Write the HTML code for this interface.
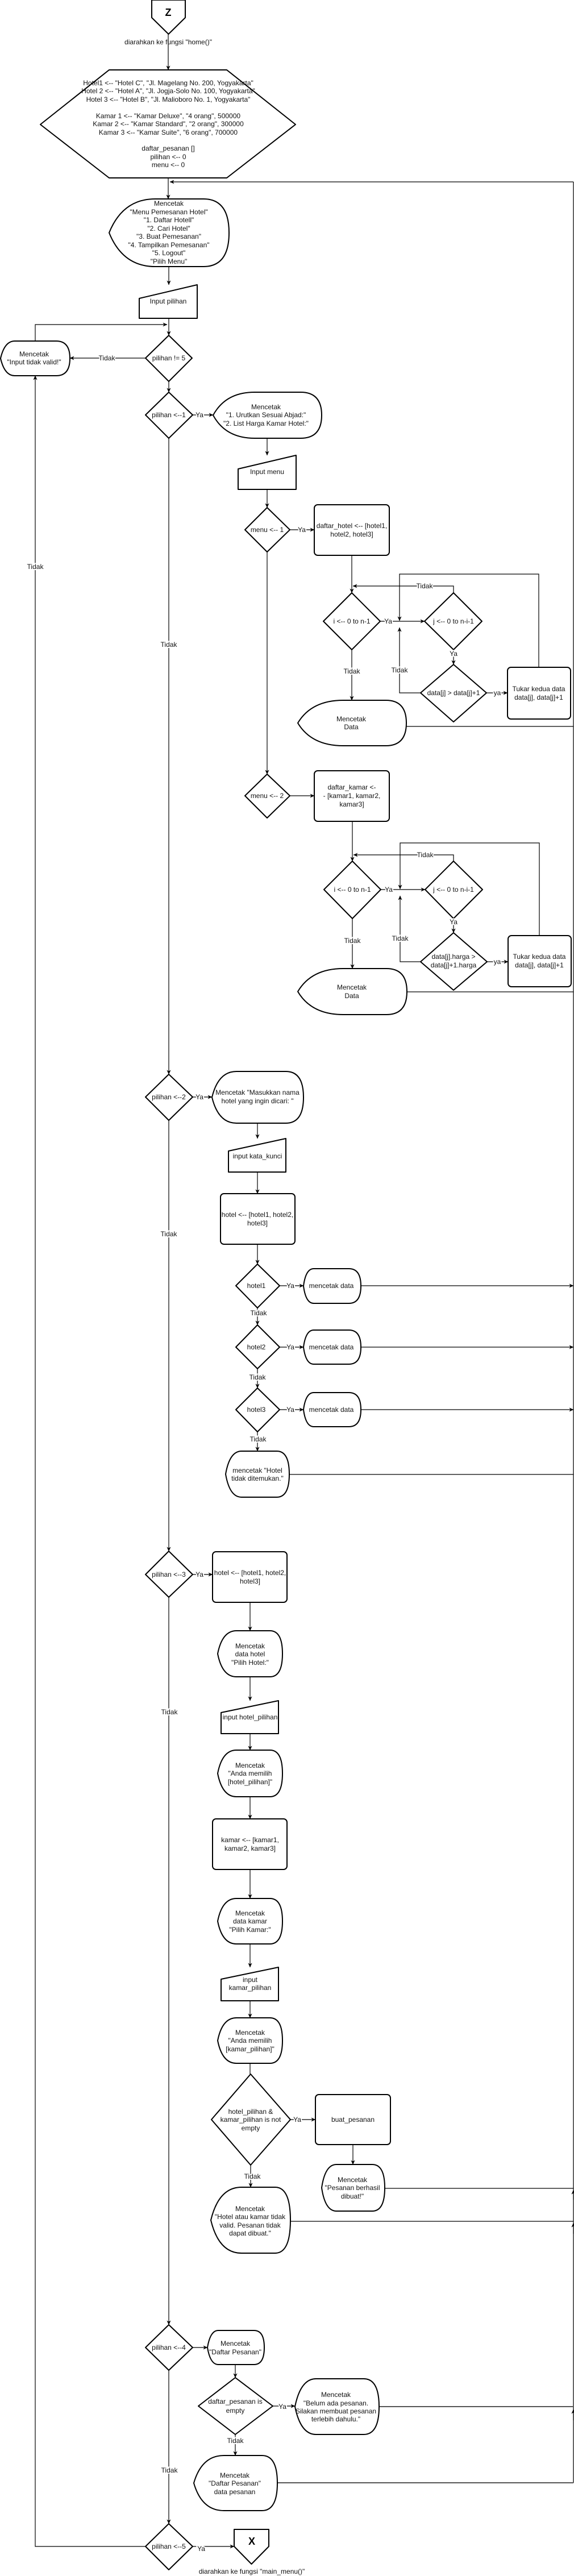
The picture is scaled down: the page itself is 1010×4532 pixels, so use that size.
<!DOCTYPE html>
<html><head><meta charset="utf-8"><style>
html,body{margin:0;padding:0;background:#fff;}
svg{display:block;}
.s{fill:#fff;stroke:#000;stroke-width:2;stroke-linejoin:round;}
.c{fill:none;stroke:#000;stroke-width:1.2;}
.t{font-family:"Liberation Sans",Arial,sans-serif;font-size:12px;fill:#111;text-anchor:middle;dominant-baseline:central;}
.l{font-family:"Liberation Sans",Arial,sans-serif;font-size:12px;fill:#111;text-anchor:middle;dominant-baseline:central;stroke:#fff;stroke-width:4px;paint-order:stroke;}
.b{font-family:"Liberation Sans",Arial,sans-serif;font-size:18px;font-weight:bold;fill:#000;text-anchor:middle;dominant-baseline:central;}
</style></head><body>
<svg width="1010" height="4532" viewBox="0 0 1010 4532" xmlns="http://www.w3.org/2000/svg">
<defs><marker id="a" viewBox="0 0 10 10" refX="9.5" refY="5" markerWidth="8" markerHeight="8" markerUnits="userSpaceOnUse" orient="auto"><path d="M0,0.5 L10,5 L0,9.5 L3,5 Z" fill="#000"/></marker></defs>

<!-- connectors -->
<g class="c">
<path d="M296,60 V123" marker-end="url(#a)"/>
<path d="M296,313 V350" marker-end="url(#a)"/>
<path d="M1009,320 H299" marker-end="url(#a)"/>
<path d="M1009,4368 V320"/>
<path d="M297,469 V501" marker-end="url(#a)"/>
<path d="M297,560 V590" marker-end="url(#a)"/>
<path d="M62,600 V571 H294" marker-end="url(#a)"/>
<path d="M256,630 H123" marker-end="url(#a)"/>
<path d="M256,4480 H62 V661" marker-end="url(#a)"/>
<path d="M297,671 V690" marker-end="url(#a)"/>
<path d="M339,730 H375" marker-end="url(#a)"/>
<path d="M470,771 V801" marker-end="url(#a)"/>
<path d="M470,861 V893" marker-end="url(#a)"/>
<path d="M510,932 H553" marker-end="url(#a)"/>
<path d="M619,977 V1043" marker-end="url(#a)"/>
<path d="M669,1093 H747" marker-end="url(#a)"/>
<path d="M798,1043 V1031 H621" marker-end="url(#a)"/>
<path d="M948,1174 V1010 H703 V1092" marker-end="url(#a)"/>
<path d="M798,1143 V1169" marker-end="url(#a)"/>
<path d="M740,1219 H703 V1104" marker-end="url(#a)"/>
<path d="M856,1219 H893" marker-end="url(#a)"/>
<path d="M619,1143 V1232" marker-end="url(#a)"/>
<path d="M715,1278 H1009"/>
<path d="M470,971 V1362" marker-end="url(#a)"/>
<path d="M510,1400 H553" marker-end="url(#a)"/>
<path d="M620,1445 V1515" marker-end="url(#a)"/>
<path d="M949,1646 V1483 H704 V1564" marker-end="url(#a)"/>
<path d="M798,1515 V1504 H622" marker-end="url(#a)"/>
<path d="M670,1565 H748" marker-end="url(#a)"/>
<path d="M798,1616 V1641" marker-end="url(#a)"/>
<path d="M740,1692 H704 V1576" marker-end="url(#a)"/>
<path d="M857,1692 H894" marker-end="url(#a)"/>
<path d="M620,1616 V1704" marker-end="url(#a)"/>
<path d="M716,1745 H1009"/>
<path d="M297,771 V1890" marker-end="url(#a)"/>
<path d="M339,1930 H373" marker-end="url(#a)"/>
<path d="M453,1976 V2003" marker-end="url(#a)"/>
<path d="M453,2062 V2100" marker-end="url(#a)"/>
<path d="M453,2189 V2224" marker-end="url(#a)"/>
<path d="M492,2262 H534" marker-end="url(#a)"/>
<path d="M635,2262 H1009" marker-end="url(#a)"/>
<path d="M453,2301 V2331" marker-end="url(#a)"/>
<path d="M492,2370 H534" marker-end="url(#a)"/>
<path d="M635,2370 H1009" marker-end="url(#a)"/>
<path d="M453,2408 V2442" marker-end="url(#a)"/>
<path d="M492,2480 H534" marker-end="url(#a)"/>
<path d="M635,2480 H1009" marker-end="url(#a)"/>
<path d="M453,2519 V2553" marker-end="url(#a)"/>
<path d="M509,2594 H1009"/>
<path d="M297,1971 V2729" marker-end="url(#a)"/>
<path d="M339,2770 H374" marker-end="url(#a)"/>
<path d="M440,2819 V2869" marker-end="url(#a)"/>
<path d="M440,2950 V2992" marker-end="url(#a)"/>
<path d="M440,3050 V3079" marker-end="url(#a)"/>
<path d="M440,3161 V3200" marker-end="url(#a)"/>
<path d="M440,3289 V3340" marker-end="url(#a)"/>
<path d="M440,3420 V3461" marker-end="url(#a)"/>
<path d="M440,3520 V3550" marker-end="url(#a)"/>
<path d="M440,3630 V3649"/>
<path d="M511,3729 H555" marker-end="url(#a)"/>
<path d="M621,3773 V3808" marker-end="url(#a)"/>
<path d="M677,3850 H1009"/>
<path d="M441,3809 V3848" marker-end="url(#a)"/>
<path d="M511,3908 H1009"/>
<path d="M1009,3870 V3853" marker-end="url(#a)"/>
<path d="M1009,3930 V3911" marker-end="url(#a)"/>
<path d="M297,2810 V4090" marker-end="url(#a)"/>
<path d="M339,4130 H365" marker-end="url(#a)"/>
<path d="M414,4160 V4183" marker-end="url(#a)"/>
<path d="M480,4233 H519" marker-end="url(#a)"/>
<path d="M667,4234 H1009" style="stroke:#555;stroke-width:2"/>
<path d="M1009,4258 V4239" marker-end="url(#a)"/>
<path d="M414,4283 V4320" marker-end="url(#a)"/>
<path d="M488,4368 H1009" style="stroke:#555;stroke-width:2"/>
<path d="M297,4170 V4440" marker-end="url(#a)"/>
<path d="M339,4480 H412" marker-end="url(#a)"/>
</g>

<!-- shapes -->
<g class="s">
<path d="M267,0 H326 V31 L296.5,60 L267,31 Z"/>
<path d="M192,123 H399 L520,219 L399,313 H192 L71,219 Z"/>
<path d="M192,409.5 Q216,350 273,350 L358,350 Q403,350 403,409.5 Q403,469 358,469 L273,469 Q216,469 192,409.5 Z"/>
<path d="M245,525 L347,501 V560 H245 Z"/>
<path d="M297,590 L338,630 L297,671 L256,630 Z"/>
<path d="M1,630.5 Q8,600 26,600 L99,600 Q123,600 123,630.5 Q123,661 99,661 L26,661 Q8,661 1,630.5 Z"/>
<path d="M297,690 L339,730 L297,771 L256,730 Z"/>
<path d="M375,730.5 Q397,690 448,690 L529,690 Q566,690 566,730.5 Q566,771 529,771 L448,771 Q397,771 375,730.5 Z"/>
<path d="M419,825 L521,801 V861 H419 Z"/>
<path d="M470,893 L510,932 L470,971 L431,932 Z"/>
<rect x="553" y="888" width="132" height="89" rx="6"/>
<path d="M619,1043 L669,1093 L619,1143 L569,1093 Z"/>
<path d="M798,1043 L848,1093 L798,1143 L747,1093 Z"/>
<path d="M798,1169 L856,1219 L798,1270 L740,1219 Z"/>
<rect x="893" y="1174" width="111" height="91" rx="6"/>
<path d="M524,1272 Q548,1232 604,1232 L679,1232 Q715,1232 715,1272 Q715,1312 679,1312 L604,1312 Q548,1312 524,1272 Z"/>
<path d="M470,1362 L510,1400 L470,1439 L431,1400 Z"/>
<rect x="553" y="1356" width="132" height="89" rx="6"/>
<path d="M620,1515 L670,1565 L620,1616 L570,1565 Z"/>
<path d="M798,1515 L849,1565 L798,1616 L748,1565 Z"/>
<path d="M798,1641 L857,1692 L798,1742 L740,1692 Z"/>
<rect x="894" y="1646" width="111" height="90" rx="6"/>
<path d="M524,1744.5 Q548,1704 604,1704 L680,1704 Q716,1704 716,1744.5 Q716,1785 680,1785 L604,1785 Q548,1785 524,1744.5 Z"/>
<path d="M297,1890 L339,1930 L297,1971 L256,1930 Z"/>
<path d="M373,1930.5 Q384,1885 416,1885 L503,1885 Q534,1885 534,1930.5 Q534,1976 503,1976 L416,1976 Q384,1976 373,1930.5 Z"/>
<path d="M402,2025 L503,2003 V2062 H402 Z"/>
<rect x="388" y="2100" width="131" height="89" rx="6"/>
<path d="M453,2224 L492,2262 L453,2301 L415,2262 Z"/>
<path d="M534,2262.5 Q538,2232 552,2232 L614,2232 Q635,2232 635,2262.5 Q635,2293 614,2293 L552,2293 Q538,2293 534,2262.5 Z"/>
<path d="M453,2331 L492,2370 L453,2408 L415,2370 Z"/>
<path d="M534,2370 Q538,2340 552,2340 L614,2340 Q635,2340 635,2370 Q635,2400 614,2400 L552,2400 Q538,2400 534,2370 Z"/>
<path d="M453,2442 L492,2480 L453,2519 L415,2480 Z"/>
<path d="M534,2480 Q538,2450 552,2450 L614,2450 Q635,2450 635,2480 Q635,2510 614,2510 L552,2510 Q538,2510 534,2480 Z"/>
<path d="M397,2593.5 Q404,2553 425,2553 L487,2553 Q509,2553 509,2593.5 Q509,2634 487,2634 L425,2634 Q404,2634 397,2593.5 Z"/>
<path d="M297,2729 L339,2770 L297,2810 L256,2770 Z"/>
<rect x="374" y="2730" width="131" height="89" rx="6"/>
<path d="M383,2909.5 Q391,2869 416,2869 L475,2869 Q497,2869 497,2909.5 Q497,2950 475,2950 L416,2950 Q391,2950 383,2909.5 Z"/>
<path d="M389,3013 L490,2992 V3050 H389 Z"/>
<path d="M383,3120 Q391,3079 416,3079 L475,3079 Q497,3079 497,3120 Q497,3161 475,3161 L416,3161 Q391,3161 383,3120 Z"/>
<rect x="374" y="3200" width="131" height="89" rx="6"/>
<path d="M383,3380 Q391,3340 416,3340 L475,3340 Q497,3340 497,3380 Q497,3420 475,3420 L416,3420 Q391,3420 383,3380 Z"/>
<path d="M389,3482 L490,3461 V3520 H389 Z"/>
<path d="M383,3590 Q391,3550 416,3550 L475,3550 Q497,3550 497,3590 Q497,3630 475,3630 L416,3630 Q391,3630 383,3590 Z"/>
<path d="M441,3649 L511,3729 L441,3809 L372,3729 Z"/>
<rect x="555" y="3685" width="132" height="88" rx="6"/>
<path d="M566,3849 Q572,3808 592,3808 L655,3808 Q677,3808 677,3849 Q677,3890 655,3890 L592,3890 Q572,3890 566,3849 Z"/>
<path d="M371,3906 Q385,3848 425,3848 L484,3848 Q511,3848 511,3906 Q511,3964 484,3964 L425,3964 Q385,3964 371,3906 Z"/>
<path d="M297,4090 L339,4130 L297,4170 L256,4130 Z"/>
<path d="M365,4130 Q370,4100 384,4100 L447,4100 Q465,4100 465,4130 Q465,4160 447,4160 L384,4160 Q370,4160 365,4130 Z"/>
<path d="M414,4183 L480,4233 L414,4283 L349,4233 Z"/>
<path d="M519,4234 Q529,4185 556,4185 L640,4185 Q667,4185 667,4234 Q667,4283 640,4283 L556,4283 Q529,4283 519,4234 Z"/>
<path d="M341,4368.5 Q355,4320 394,4320 L461,4320 Q488,4320 488,4368.5 Q488,4417 461,4417 L394,4417 Q355,4417 341,4368.5 Z"/>
<path d="M297,4440 L339,4480 L297,4521 L256,4480 Z"/>
<path d="M412,4450 H473 V4480 L442.5,4511 L412,4480 Z"/>
</g>

<!-- text -->
<text class="b" x="296" y="22">Z</text>
<text class="t" x="296" y="74">diarahkan ke fungsi "home()"</text>
<text class="t" x="296" y="146">Hotel1 &lt;-- "Hotel C", "Jl. Magelang No. 200, Yogyakarta"</text>
<text class="t" x="296" y="160">Hotel 2 &lt;-- "Hotel A", "Jl. Jogja-Solo No. 100, Yogyakarta"</text>
<text class="t" x="296" y="175">Hotel 3 &lt;-- "Hotel B", "Jl. Malioboro No. 1, Yogyakarta"</text>
<text class="t" x="296" y="204">Kamar 1 &lt;-- "Kamar Deluxe", "4 orang", 500000</text>
<text class="t" x="296" y="218">Kamar 2 &lt;-- "Kamar Standard", "2 orang", 300000</text>
<text class="t" x="296" y="233">Kamar 3 &lt;-- "Kamar Suite", "6 orang", 700000</text>
<text class="t" x="296" y="261">daftar_pesanan []</text>
<text class="t" x="296" y="276">pilihan &lt;-- 0</text>
<text class="t" x="296" y="290">menu &lt;-- 0</text>
<text class="t" x="297" y="358">Mencetak</text>
<text class="t" x="297" y="373">"Menu Pemesanan Hotel"</text>
<text class="t" x="297" y="387">"1. Daftar Hotell"</text>
<text class="t" x="297" y="402">"2. Cari Hotel"</text>
<text class="t" x="297" y="416">"3. Buat Pemesanan"</text>
<text class="t" x="297" y="431">"4. Tampilkan Pemesanan"</text>
<text class="t" x="297" y="445">"5. Logout"</text>
<text class="t" x="297" y="460">"Pilih Menu"</text>
<text class="t" x="296" y="530">Input pilihan</text>
<text class="t" x="297" y="630">pilihan != 5</text>
<text class="l" x="188" y="630">Tidak</text>
<text class="t" x="60" y="623">Mencetak</text>
<text class="t" x="60" y="637">"Input tidak valid!"</text>
<text class="l" x="62" y="997">Tidak</text>
<text class="t" x="297" y="730">pilihan &lt;--1</text>
<text class="l" x="351" y="730">Ya</text>
<text class="t" x="468" y="716">Mencetak</text>
<text class="t" x="468" y="730">"1. Urutkan Sesuai Abjad:"</text>
<text class="t" x="468" y="745">"2. List Harga Kamar Hotel:"</text>
<text class="t" x="470" y="830">Input menu</text>
<text class="t" x="470" y="932">menu &lt;-- 1</text>
<text class="l" x="531" y="932">Ya</text>
<text class="t" x="619" y="925">daftar_hotel &lt;-- [hotel1,</text>
<text class="t" x="619" y="940">hotel2, hotel3]</text>
<text class="t" x="619" y="1093">i &lt;-- 0 to n-1</text>
<text class="l" x="683" y="1093">Ya</text>
<text class="t" x="798" y="1093">j &lt;-- 0 to n-i-1</text>
<text class="l" x="747" y="1031">Tidak</text>
<text class="l" x="798" y="1150">Ya</text>
<text class="t" x="798" y="1219">data[j] &gt; data[j]+1</text>
<text class="l" x="703" y="1179">Tidak</text>
<text class="l" x="875" y="1219">ya</text>
<text class="t" x="948" y="1212">Tukar kedua data</text>
<text class="t" x="948" y="1227">data[j], data[j]+1</text>
<text class="l" x="619" y="1181">Tidak</text>
<text class="t" x="618" y="1265">Mencetak</text>
<text class="t" x="618" y="1279">Data</text>
<text class="l" x="297" y="1134">Tidak</text>
<text class="t" x="470" y="1400">menu &lt;-- 2</text>
<text class="t" x="619" y="1385">daftar_kamar &lt;-</text>
<text class="t" x="619" y="1400">- [kamar1, kamar2,</text>
<text class="t" x="619" y="1415">kamar3]</text>
<text class="t" x="620" y="1565">i &lt;-- 0 to n-1</text>
<text class="l" x="684" y="1565">Ya</text>
<text class="t" x="798" y="1565">j &lt;-- 0 to n-i-1</text>
<text class="l" x="748" y="1504">Tidak</text>
<text class="l" x="798" y="1622">Ya</text>
<text class="t" x="798" y="1683">data[j].harga &gt;</text>
<text class="t" x="798" y="1698">data[j]+1.harga</text>
<text class="l" x="704" y="1651">Tidak</text>
<text class="l" x="875" y="1692">ya</text>
<text class="t" x="949" y="1683">Tukar kedua data</text>
<text class="t" x="949" y="1698">data[j], data[j]+1</text>
<text class="l" x="620" y="1655">Tidak</text>
<text class="t" x="619" y="1737">Mencetak</text>
<text class="t" x="619" y="1752">Data</text>
<text class="t" x="297" y="1930">pilihan &lt;--2</text>
<text class="l" x="351" y="1930">Ya</text>
<text class="t" x="453" y="1922">Mencetak "Masukkan nama</text>
<text class="t" x="453" y="1937">hotel yang ingin dicari: "</text>
<text class="t" x="453" y="2034">input kata_kunci</text>
<text class="l" x="297" y="2171">Tidak</text>
<text class="t" x="453" y="2137">hotel &lt;-- [hotel1, hotel2,</text>
<text class="t" x="453" y="2152">hotel3]</text>
<text class="t" x="451" y="2262">hotel1</text>
<text class="l" x="511" y="2262">Ya</text>
<text class="t" x="583" y="2262">mencetak data</text>
<text class="l" x="455" y="2310">Tidak</text>
<text class="t" x="451" y="2370">hotel2</text>
<text class="l" x="511" y="2370">Ya</text>
<text class="t" x="583" y="2370">mencetak data</text>
<text class="l" x="453" y="2423">Tidak</text>
<text class="t" x="451" y="2480">hotel3</text>
<text class="l" x="511" y="2480">Ya</text>
<text class="t" x="583" y="2480">mencetak data</text>
<text class="l" x="454" y="2532">Tidak</text>
<text class="t" x="453" y="2587">mencetak "Hotel</text>
<text class="t" x="453" y="2601">tidak ditemukan."</text>
<text class="t" x="297" y="2770">pilihan &lt;--3</text>
<text class="l" x="351" y="2770">Ya</text>
<text class="t" x="440" y="2767">hotel &lt;-- [hotel1, hotel2,</text>
<text class="t" x="440" y="2782">hotel3]</text>
<text class="t" x="440" y="2896">Mencetak</text>
<text class="t" x="440" y="2910">data hotel</text>
<text class="t" x="440" y="2925">"Pilih Hotel:"</text>
<text class="l" x="298" y="3012">Tidak</text>
<text class="t" x="440" y="3021">input hotel_pilihan</text>
<text class="t" x="440" y="3106">Mencetak</text>
<text class="t" x="440" y="3120">"Anda memilih</text>
<text class="t" x="440" y="3135">[hotel_pilihan]"</text>
<text class="t" x="440" y="3237">kamar &lt;-- [kamar1,</text>
<text class="t" x="440" y="3252">kamar2, kamar3]</text>
<text class="t" x="440" y="3366">Mencetak</text>
<text class="t" x="440" y="3380">data kamar</text>
<text class="t" x="440" y="3395">"Pilih Kamar:"</text>
<text class="t" x="440" y="3483">input</text>
<text class="t" x="440" y="3497">kamar_pilihan</text>
<text class="t" x="440" y="3576">Mencetak</text>
<text class="t" x="440" y="3590">"Anda memilih</text>
<text class="t" x="440" y="3605">[kamar_pilihan]"</text>
<text class="t" x="441" y="3715">hotel_pilihan &amp;</text>
<text class="t" x="441" y="3729">kamar_pilihan is not</text>
<text class="t" x="441" y="3744">empty</text>
<text class="l" x="523" y="3729">Ya</text>
<text class="t" x="621" y="3729">buat_pesanan</text>
<text class="t" x="620" y="3835">Mencetak</text>
<text class="t" x="620" y="3849">"Pesanan berhasil</text>
<text class="t" x="620" y="3864">dibuat!"</text>
<text class="l" x="444" y="3829">Tidak</text>
<text class="t" x="440" y="3886">Mencetak</text>
<text class="t" x="440" y="3900">"Hotel atau kamar tidak</text>
<text class="t" x="440" y="3915">valid. Pesanan tidak</text>
<text class="t" x="440" y="3929">dapat dibuat."</text>
<text class="t" x="297" y="4130">pilihan &lt;--4</text>
<text class="t" x="414" y="4123">Mencetak</text>
<text class="t" x="414" y="4138">"Daftar Pesanan"</text>
<text class="t" x="414" y="4225">daftar_pesanan is</text>
<text class="t" x="414" y="4241">empty</text>
<text class="l" x="497" y="4234">Ya</text>
<text class="t" x="591" y="4213">Mencetak</text>
<text class="t" x="591" y="4228">"Belum ada pesanan.</text>
<text class="t" x="591" y="4242">Silakan membuat pesanan</text>
<text class="t" x="591" y="4256">terlebih dahulu."</text>
<text class="l" x="414" y="4294">Tidak</text>
<text class="t" x="413" y="4355">Mencetak</text>
<text class="t" x="413" y="4369">"Daftar Pesanan"</text>
<text class="t" x="413" y="4384">data pesanan</text>
<text class="l" x="298" y="4346">Tidak</text>
<text class="t" x="297" y="4480">pilihan &lt;--5</text>
<text class="l" x="354" y="4484">Ya</text>
<text class="b" x="443" y="4471">X</text>
<text class="t" x="443" y="4524">diarahkan ke fungsi "main_menu()"</text>
</svg>
</body></html>
